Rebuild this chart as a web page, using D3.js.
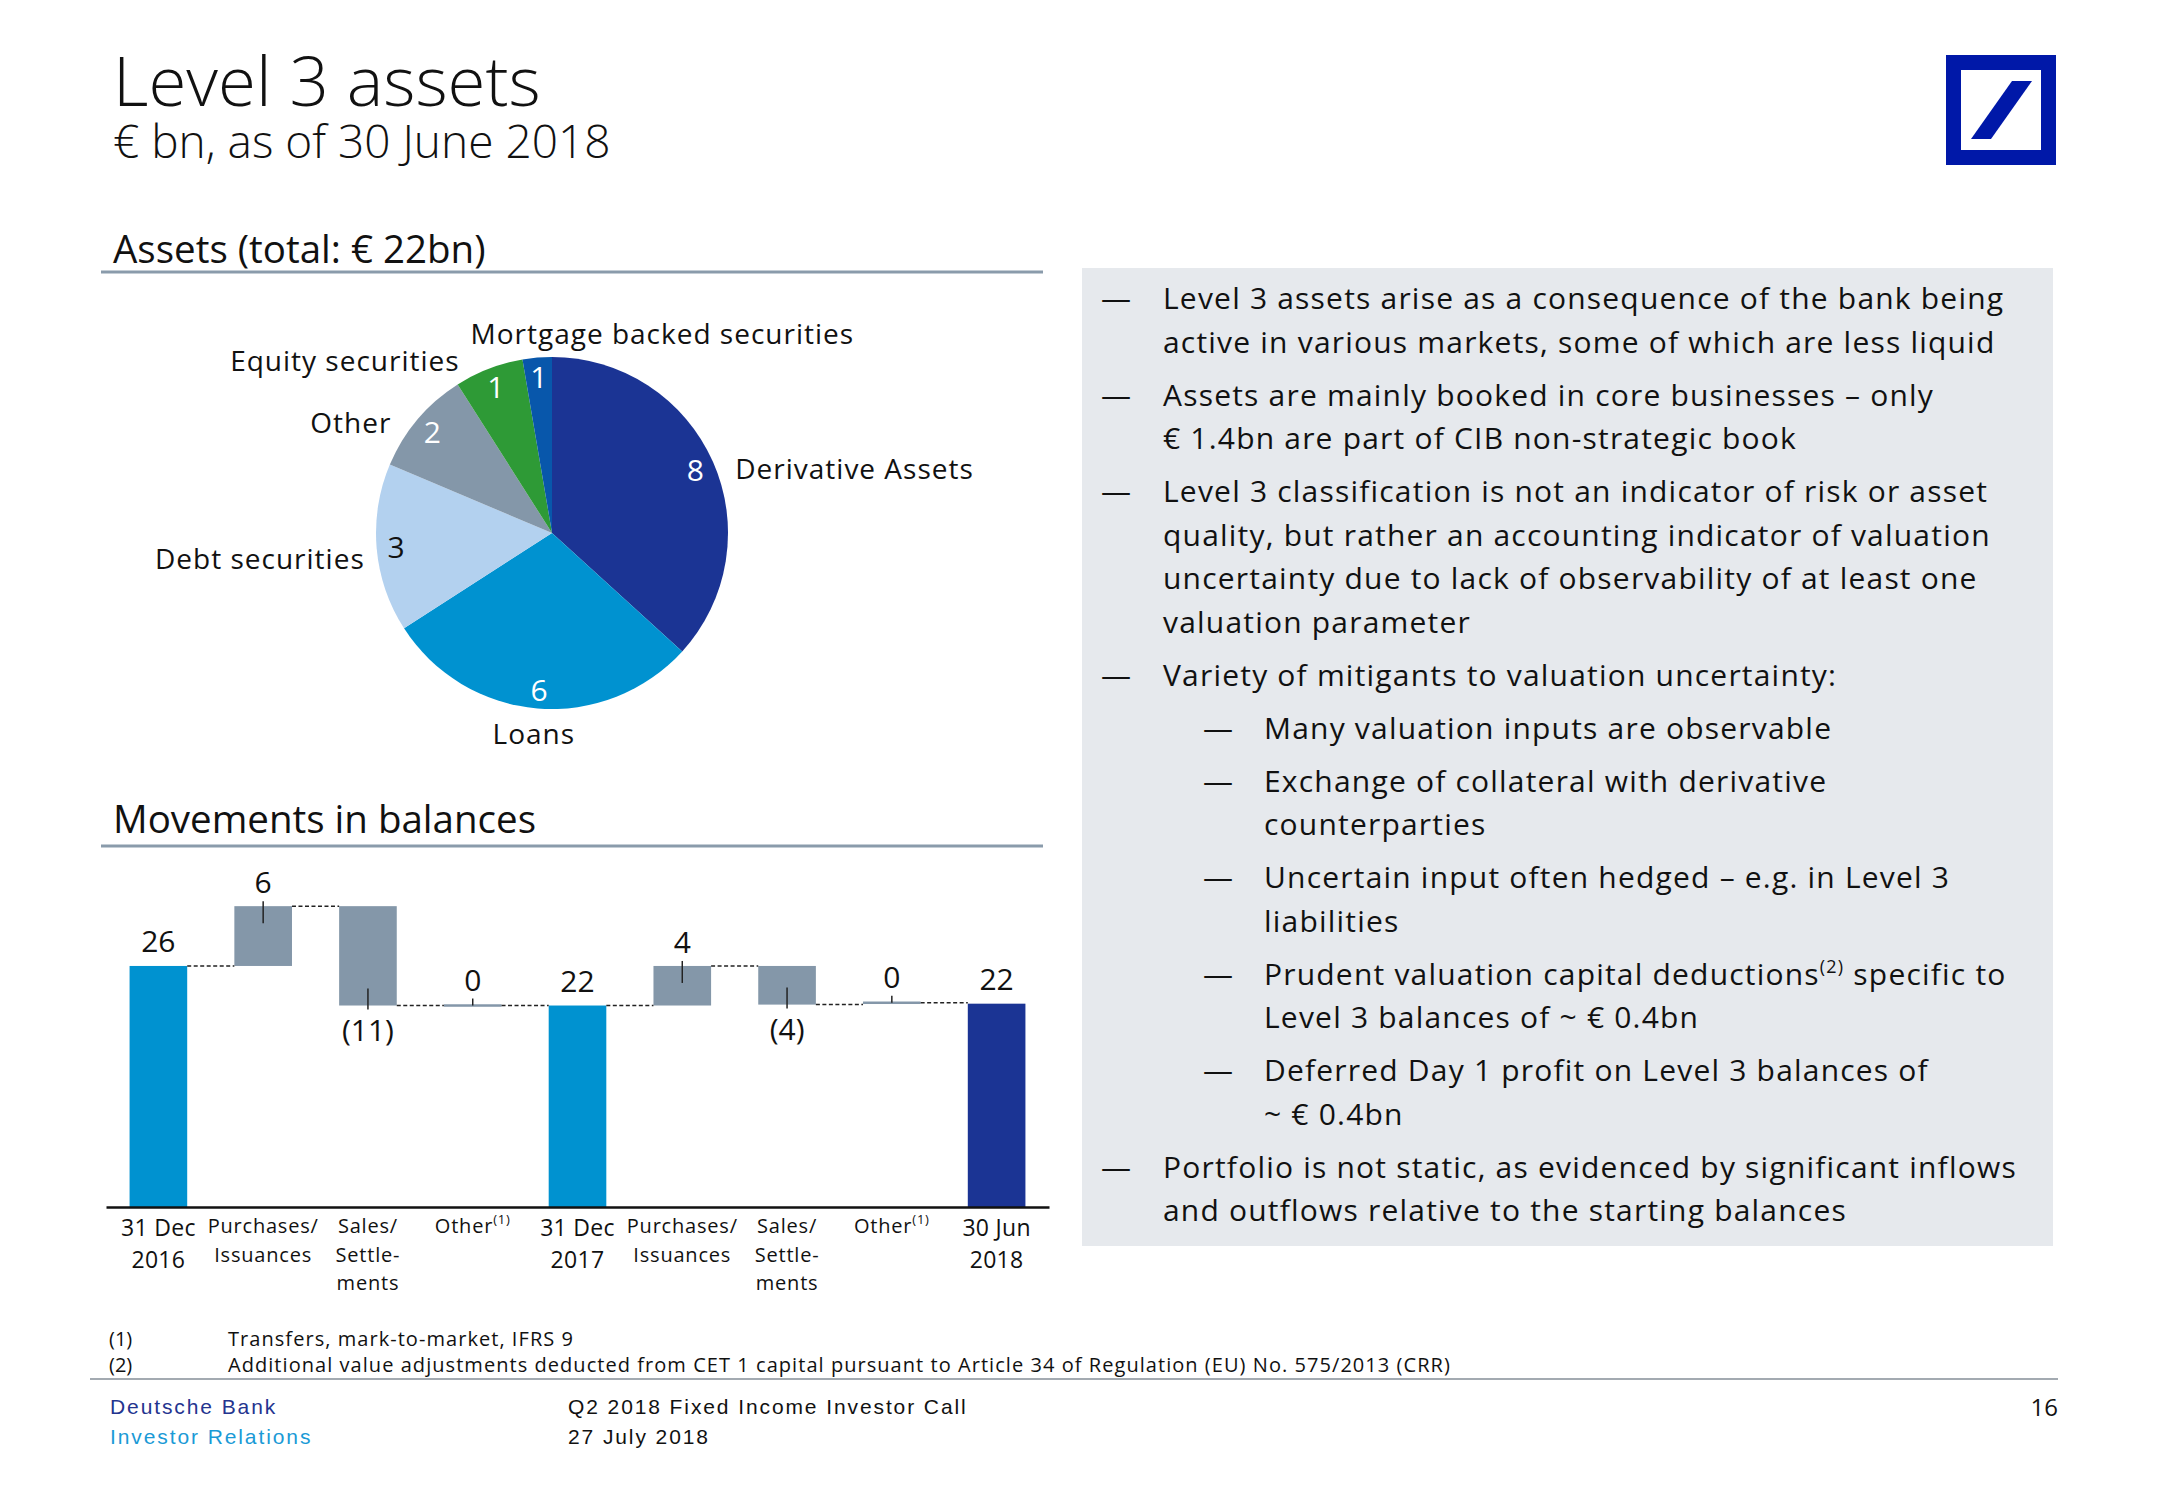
<!DOCTYPE html>
<html><head><meta charset="utf-8">
<script src="https://cdn.jsdelivr.net/npm/d3@7"></script>
<style>body{margin:0;background:#fff;} svg{display:block;}</style>
</head><body><svg id="chart" width="2166" height="1500"></svg>
<script>
// ---------------- DATA ----------------
const pieCategories = ["Derivative Assets", "Loans", "Debt securities", "Other", "Equity securities", "Mortgage backed securities"];
const pieValues = [8.08, 6.41, 3.40, 2.12, 1.39, 0.59];
const pieValueLabels = ["8", "6", "3", "2", "1", "1"];

const wfCategories = ["31 Dec 2016", "Purchases/ Issuances", "Sales/ Settlements", "Other(1)", "31 Dec 2017", "Purchases/ Issuances", "Sales/ Settlements", "Other(1)", "30 Jun 2018"];
const wfTickLines = [["31 Dec", "2016"], ["Purchases/", "Issuances"], ["Sales/", "Settle-", "ments"], ["Other^(1)"], ["31 Dec", "2017"], ["Purchases/", "Issuances"], ["Sales/", "Settle-", "ments"], ["Other^(1)"], ["30 Jun", "2018"]];
const wfValues = [26.2, 6.5, -10.8, 0.0, 21.9, 4.3, -4.2, 0.2, 22.1];
const wfKinds = ["total", "delta", "delta", "delta", "total", "delta", "delta", "delta", "total"];
const wfValueLabels = ["26", "6", "(11)", "0", "22", "4", "(4)", "0", "22"];

const bullets = [
  {level: 0, lines: ["Level 3 assets arise as a consequence of the bank being", "active in various markets, some of which are less liquid"]},
  {level: 0, lines: ["Assets are mainly booked in core businesses \u2013 only", "\u20ac 1.4bn are part of CIB non-strategic book"]},
  {level: 0, lines: ["Level 3 classification is not an indicator of risk or asset", "quality, but rather an accounting indicator of valuation", "uncertainty due to lack of observability of at least one", "valuation parameter"]},
  {level: 0, lines: ["Variety of mitigants to valuation uncertainty:"]},
  {level: 1, lines: ["Many valuation inputs are observable"]},
  {level: 1, lines: ["Exchange of collateral with derivative", "counterparties"]},
  {level: 1, lines: ["Uncertain input often hedged \u2013 e.g. in Level 3", "liabilities"]},
  {level: 1, lines: ["Prudent valuation capital deductions^(2) specific to", "Level 3 balances of ~ \u20ac 0.4bn"]},
  {level: 1, lines: ["Deferred Day 1 profit on Level 3 balances of", "~ \u20ac 0.4bn"]},
  {level: 0, lines: ["Portfolio is not static, as evidenced by significant inflows", "and outflows relative to the starting balances"]}
];
const footnotes = [["(1)", "Transfers, mark-to-market, IFRS 9"], ["(2)", "Additional value adjustments deducted from CET 1 capital pursuant to Article 34 of Regulation (EU) No. 575/2013 (CRR)"]];

// ---------------- STYLE ----------------
const FONT = "'Open Sans', 'Noto Sans', sans-serif";
const pieColors = ["#1b3494", "#0092d0", "#b3d1ef", "#8497a9", "#2e9a36", "#0857ab"];
const pieInnerText = ["#fff", "#fff", "#111", "#fff", "#fff", "#fff"];
const pieLabelNudge = [[4, 14, "start"], [-2, 5, "middle"], [8, 8, "end"], [-11, 16, "end"], [-22, 10, "end"], [-65, -5, "start"]];
const BRIGHT = "#0092d0", NAVY = "#1b3494", GREY = "#8497a9";

const svg = d3.select("#chart");
svg.append("rect").attr("width", 2166).attr("height", 1500).attr("fill", "#fff");

function addRich(sel, str, supSize) {
  const parts = str.split(/\^(\(\d\))/);
  parts.forEach((p, i) => {
    if (!p) return;
    if (i % 2 === 1) sel.append("tspan").attr("font-size", supSize).attr("baseline-shift", "super").text(p);
    else sel.append("tspan").text(p);
  });
}

// ---------------- HEADER ----------------
svg.append("text").attr("x", 113).attr("y", 106).attr("font-family", FONT).attr("font-weight", 300)
  .attr("font-size", 69).attr("fill", "#111").text("Level 3 assets");
svg.append("text").attr("x", 113).attr("y", 158).attr("font-family", FONT).attr("font-weight", 300)
  .attr("font-size", 46).attr("fill", "#111").text("\u20ac bn, as of 30 June 2018");

// logo
const logo = svg.append("g");
logo.append("rect").attr("x", 1946).attr("y", 55).attr("width", 110).attr("height", 110).attr("fill", "#0018a8");
logo.append("rect").attr("x", 1961).attr("y", 70).attr("width", 80).attr("height", 80).attr("fill", "#fff");
logo.append("path").attr("d", d3.line()([[1971, 139], [1991, 139], [2032, 81], [2012, 81]]) + "Z").attr("fill", "#0018a8");

// section headings
function heading(txt, y, lineY) {
  svg.append("text").attr("x", 113).attr("y", y).attr("font-family", FONT).attr("font-size", 38.5).attr("fill", "#111").text(txt);
  svg.append("line").attr("x1", 101).attr("x2", 1043).attr("y1", lineY).attr("y2", lineY).attr("stroke", "#8a9bab").attr("stroke-width", 3);
}
heading("Assets (total: \u20ac 22bn)", 263, 272);
heading("Movements in balances", 833, 846);

// ---------------- PIE ----------------
const cx = 552, cy = 533, R = 176;
const arcs = d3.pie().sort(null).value(d => d)(pieValues);
const arc = d3.arc().innerRadius(0).outerRadius(R);
const arcIn = d3.arc().innerRadius(R * 0.89).outerRadius(R * 0.89);
const arcOut = d3.arc().innerRadius(R + 20).outerRadius(R + 20);
const pg = svg.append("g").attr("transform", `translate(${cx},${cy})`);
pg.selectAll("path").data(arcs).join("path").attr("d", arc).attr("fill", (d, i) => pieColors[i]);
pg.selectAll("text.v").data(arcs).join("text").attr("class", "v")
  .attr("x", d => arcIn.centroid(d)[0]).attr("y", d => arcIn.centroid(d)[1])
  .attr("text-anchor", "middle").attr("dominant-baseline", "central")
  .attr("font-family", FONT).attr("font-size", 30).attr("fill", (d, i) => pieInnerText[i])
  .text((d, i) => pieValueLabels[i]);
pg.selectAll("text.c").data(arcs).join("text").attr("class", "c")
  .attr("x", (d, i) => arcOut.centroid(d)[0] + pieLabelNudge[i][0])
  .attr("y", (d, i) => arcOut.centroid(d)[1] + pieLabelNudge[i][1])
  .attr("text-anchor", (d, i) => pieLabelNudge[i][2]).attr("dominant-baseline", "central")
  .attr("font-family", FONT).attr("font-size", 28).attr("letter-spacing", 1.0).attr("fill", "#111")
  .text((d, i) => pieCategories[i]);

// ---------------- WATERFALL ----------------
const x = d3.scaleBand().domain(d3.range(wfCategories.length)).range([106, 1049]).paddingInner(0.45).paddingOuter(0.225);
const y = d3.scaleLinear().domain([0, 33]).range([1207, 1207 - 33 * 9.2]);
let level = 0;
const wf = wfValues.map((v, i) => {
  let y0, y1;
  if (wfKinds[i] === "total") { y0 = 0; y1 = v; level = v; }
  else { y0 = level; y1 = level + v; level = level + v; }
  return {i, v, y0, y1, level, kind: wfKinds[i]};
});
const wg = svg.append("g");
wg.selectAll("rect").data(wf).join("rect")
  .attr("x", d => x(d.i)).attr("width", x.bandwidth())
  .attr("y", d => Math.min(y(d.y0), y(d.y1)) - (Math.abs(y(d.y0) - y(d.y1)) < 2.5 ? 1.25 : 0))
  .attr("height", d => Math.max(Math.abs(y(d.y0) - y(d.y1)), 2.5))
  .attr("fill", d => d.kind === "total" ? (d.i === wf.length - 1 ? NAVY : BRIGHT) : GREY);
// connectors
wg.selectAll("line.conn").data(wf.slice(0, -1)).join("line").attr("class", "conn")
  .attr("x1", d => x(d.i) + x.bandwidth()).attr("x2", d => x(d.i + 1))
  .attr("y1", d => y(d.level)).attr("y2", d => y(d.level))
  .attr("stroke", "#222").attr("stroke-width", 1.5).attr("stroke-dasharray", "4,2.5");
// value labels + leaders
wf.forEach(d => {
  const cxb = x(d.i) + x.bandwidth() / 2;
  const top = y(Math.max(d.y0, d.y1)), bot = y(Math.min(d.y0, d.y1));
  let ty, l1, l2;
  if (d.kind === "total") { ty = top - 14; }
  else if (d.v >= 1) { ty = top - 13; l1 = top - 5; l2 = top + 17; }
  else if (d.v <= -1) { ty = bot + 35; l1 = bot - 17; l2 = bot + 4; }
  else { ty = top - 15; l1 = top - 7; l2 = top; }
  if (l1 !== undefined) wg.append("line").attr("x1", cxb).attr("x2", cxb).attr("y1", l1).attr("y2", l2)
    .attr("stroke", "#222").attr("stroke-width", 1.5);
  wg.append("text").attr("x", cxb).attr("y", ty).attr("text-anchor", "middle")
    .attr("font-family", FONT).attr("font-size", 30).attr("fill", "#111").text(wfValueLabels[d.i]);
});
// axis
const ax = svg.append("g").attr("transform", "translate(0,1207)")
  .call(d3.axisBottom(x).tickSize(0).tickFormat(""));
ax.select(".domain").attr("stroke", "#111").attr("stroke-width", 2.5);
wfTickLines.forEach((lines, i) => {
  const isDate = wfKinds[i] === "total";
  const t = svg.append("text").attr("text-anchor", "middle").attr("font-family", FONT).attr("fill", "#111")
    .attr("font-size", isDate ? 23 : 20).attr("letter-spacing", isDate ? 0.3 : 0.8);
  lines.forEach((ln, j) => {
    const ts = t.append("tspan").attr("x", x(i) + x.bandwidth() / 2)
      .attr("y", isDate ? 1236 + j * 32 : 1233 + j * 28.5);
    addRich(ts, ln, 13);
  });
});

// ---------------- RIGHT PANEL ----------------
svg.append("rect").attr("x", 1082).attr("y", 268).attr("width", 971).attr("height", 978).attr("fill", "#e6e9ed");
let by = 309;
bullets.forEach((b, bi) => {
  if (bi > 0) by += 53;
  const dashX = b.level === 0 ? 1101 : 1203, textX = b.level === 0 ? 1163 : 1264;
  svg.append("text").attr("x", dashX).attr("y", by).attr("font-family", FONT).attr("font-size", 30).attr("fill", "#111").text("\u2014");
  b.lines.forEach((ln, j) => {
    if (j > 0) by += 43.5;
    const t = svg.append("text").attr("x", textX).attr("y", by).attr("font-family", FONT)
      .attr("font-size", 30).attr("letter-spacing", 1.2).attr("fill", "#111");
    addRich(t, ln, 18);
  });
});

// ---------------- FOOTNOTES / FOOTER ----------------
footnotes.forEach((f, i) => {
  svg.append("text").attr("x", 109).attr("y", 1346 + i * 26).attr("font-family", FONT).attr("font-size", 20).attr("fill", "#111").text(f[0]);
  svg.append("text").attr("x", 228).attr("y", 1346 + i * 26).attr("font-family", FONT).attr("font-size", 20)
    .attr("letter-spacing", 1.05).attr("fill", "#111").text(f[1]);
});
svg.append("line").attr("x1", 90).attr("x2", 2058).attr("y1", 1379).attr("y2", 1379).attr("stroke", "#a3aab1").attr("stroke-width", 2);
const FF = "'Liberation Sans', Arial, sans-serif";
function foot(txt, xx, yy, col) {
  svg.append("text").attr("x", xx).attr("y", yy).attr("font-family", FF).attr("font-size", 21)
    .attr("letter-spacing", 1.9).attr("fill", col).text(txt);
}
foot("Deutsche Bank", 110, 1414, "#24348f");
foot("Investor Relations", 110, 1444, "#1a9ad6");
foot("Q2 2018 Fixed Income Investor Call", 568, 1414, "#111");
foot("27 July 2018", 568, 1444, "#111");
svg.append("text").attr("x", 2058).attr("y", 1416).attr("font-family", FONT).attr("font-size", 24).attr("text-anchor", "end").attr("fill", "#111").text("16");
</script></body></html>
